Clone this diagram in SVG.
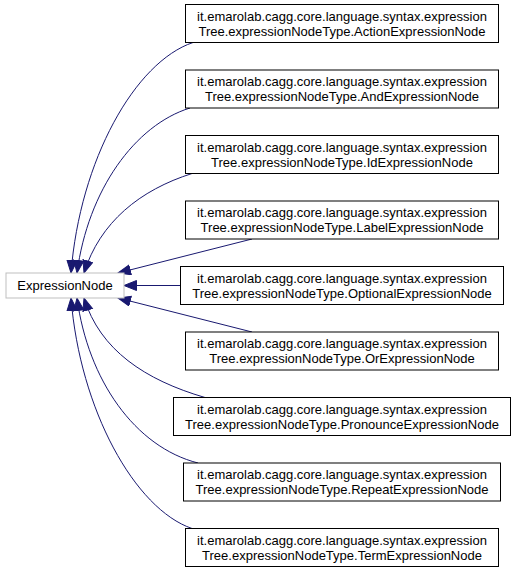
<svg xmlns="http://www.w3.org/2000/svg" width="517" height="573" viewBox="0 0 517 573">
<style>
  .box { fill: #ffffff; stroke: #000000; stroke-width: 1; }
  .base { fill: #ffffff; stroke: #bfbfbf; stroke-width: 1; }
  text { font-family: "Liberation Sans", Arial, sans-serif; font-size: 13px; fill: #000000; text-anchor: middle; }
  .edge { fill: none; stroke: #191970; stroke-width: 1; marker-end: url(#arr); }
</style>
<defs>
  <marker id="arr" markerUnits="userSpaceOnUse" markerWidth="15" markerHeight="13" refX="13" refY="5.5" orient="auto">
    <path d="M0.5,0.5 L13,5.5 L0.5,10.5 z" fill="#191970" stroke="#191970" stroke-width="1"/>
  </marker>
</defs>
<rect width="517" height="573" fill="#ffffff"/>
<g id="edges">
  <path class="edge" d="M193,42.5 C135,62 80,160 71,273"/>
  <path class="edge" d="M190,108 C135,125 88,190 77,273"/>
  <path class="edge" d="M192,173.5 C140,190 100,222 84,273"/>
  <path class="edge" d="M252,239 L118,273"/>
  <path class="edge" d="M180.5,285.5 L124,285.5"/>
  <path class="edge" d="M252,332 L118,298"/>
  <path class="edge" d="M205,397.5 C145,380 100,350 84,298"/>
  <path class="edge" d="M198,463 C135,447 88,380 77,298"/>
  <path class="edge" d="M192,528.5 C135,509 80,410 71,298"/>
</g>
<g id="ExpressionNode">
  <rect class="base" x="6" y="273" width="118" height="25"/>
  <text x="65" y="290">ExpressionNode</text>
</g>
<g id="ActionExpressionNode">
  <rect class="box" x="185.5" y="4.5" width="313" height="38"/>
  <text x="342" y="20.5">it.emarolab.cagg.core.language.syntax.expression</text>
  <text x="342" y="35.5">Tree.expressionNodeType.ActionExpressionNode</text>
</g>
<g id="AndExpressionNode">
  <rect class="box" x="185.5" y="70" width="313" height="38"/>
  <text x="342" y="86">it.emarolab.cagg.core.language.syntax.expression</text>
  <text x="342" y="101">Tree.expressionNodeType.AndExpressionNode</text>
</g>
<g id="IdExpressionNode">
  <rect class="box" x="185.5" y="135.5" width="313" height="38"/>
  <text x="342" y="151.5">it.emarolab.cagg.core.language.syntax.expression</text>
  <text x="342" y="166.5">Tree.expressionNodeType.IdExpressionNode</text>
</g>
<g id="LabelExpressionNode">
  <rect class="box" x="185.5" y="201" width="313" height="38"/>
  <text x="342" y="217">it.emarolab.cagg.core.language.syntax.expression</text>
  <text x="342" y="232">Tree.expressionNodeType.LabelExpressionNode</text>
</g>
<g id="OptionalExpressionNode">
  <rect class="box" x="180.5" y="266.5" width="323" height="38"/>
  <text x="342" y="282.5">it.emarolab.cagg.core.language.syntax.expression</text>
  <text x="342" y="297.5">Tree.expressionNodeType.OptionalExpressionNode</text>
</g>
<g id="OrExpressionNode">
  <rect class="box" x="185.5" y="332" width="313" height="38"/>
  <text x="342" y="348">it.emarolab.cagg.core.language.syntax.expression</text>
  <text x="342" y="363">Tree.expressionNodeType.OrExpressionNode</text>
</g>
<g id="PronounceExpressionNode">
  <rect class="box" x="173.5" y="397.5" width="337" height="38"/>
  <text x="342" y="413.5">it.emarolab.cagg.core.language.syntax.expression</text>
  <text x="342" y="428.5">Tree.expressionNodeType.PronounceExpressionNode</text>
</g>
<g id="RepeatExpressionNode">
  <rect class="box" x="183.5" y="463" width="317" height="38"/>
  <text x="342" y="479">it.emarolab.cagg.core.language.syntax.expression</text>
  <text x="342" y="494">Tree.expressionNodeType.RepeatExpressionNode</text>
</g>
<g id="TermExpressionNode">
  <rect class="box" x="185.5" y="528.5" width="313" height="38"/>
  <text x="342" y="544.5">it.emarolab.cagg.core.language.syntax.expression</text>
  <text x="342" y="559.5">Tree.expressionNodeType.TermExpressionNode</text>
</g>
</svg>
